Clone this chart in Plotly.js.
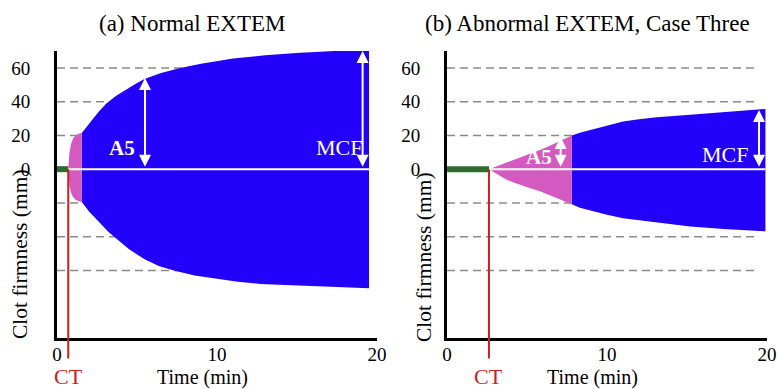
<!DOCTYPE html>
<html>
<head>
<meta charset="utf-8">
<script src="https://cdn.plot.ly/plotly-3.0.1.min.js"></script>
<style>html,body{margin:0;padding:0;background:#fff;}#chart{width:778px;height:389px;}</style>
</head>
<body>
<div id="chart"></div>
<script>
// ---------- data ----------
const panelTitles = ["(a) Normal EXTEM", "(b) Abnormal EXTEM, Case Three"];
const xTickVals = [0, 10, 20];
const yTickVals = [0, 20, 40, 60];
const gridVals = [60, 40, 20, -20, -40, -60];
const gridEnd = [19.3, 19.3];

// clotting time (min)
const ctTimes = [0.7, 2.62];

// Panel A: pink (clot formation) region
const pinkA_t  = [0.7, 0.72, 0.78, 0.88, 1.0, 1.15, 1.35, 1.55];
const pinkA_up = [0, 5, 10, 15, 18, 20, 21, 21.5];
const pinkA_lo = [0, -5, -10, -14, -16.5, -18, -19, -19.5];
// Panel A: blue (clot firmness) region
const blueA_tUp = [1.55, 1.9, 2.3, 2.7, 3.1, 3.7, 4.35, 5.0, 5.5, 6.5, 7.7, 9, 11, 13, 15.2, 17.5, 19.5];
const blueA_up  = [21.5, 26, 30.5, 35, 39, 43.5, 47.5, 51, 53.5, 57, 60, 62.5, 65.5, 67.5, 69, 70, 71];
const blueA_tLo = [1.55, 2.0, 2.7, 3.2, 3.7, 4.5, 5.5, 6.4, 7.3, 8.6, 10, 11.3, 12.7, 14.5, 16.4, 18, 19.5];
const blueA_lo  = [-19.5, -25, -32, -37, -41, -47.5, -53.5, -57.5, -60, -63, -65, -66.7, -68, -68.7, -69.2, -70, -70.5];

// Panel B: pink region
const pinkB_t  = [2.62, 3.2, 3.73, 4.25, 4.77, 5.3, 5.81, 6.35, 6.85, 7.3, 7.8];
const pinkB_up = [0, 2, 3.9, 5.8, 7.7, 9.6, 11.4, 13.6, 15.8, 17.9, 20];
const pinkB_lo = [0, -3.3, -6.2, -8.2, -10, -11.6, -13.1, -15, -17, -18.8, -20.8];
// Panel B: blue region
const blueB_t  = [7.8, 8.3, 8.9, 10, 11, 12, 13.1, 15.2, 17.3, 19.9];
const blueB_up = [20, 21.6, 23, 26, 28.3, 29.6, 30.7, 32.3, 33.9, 35.7];
const blueB_lo = [-20.8, -22.8, -24.4, -27, -29, -30.4, -31.5, -33.9, -35.5, -36.8];

const lineEnd = [19.5, 19.9];

// A5 and MCF arrows: [time, amplitude]
const a5Arrow  = [[5.5, 54], [7.1, 19]];
const mcfArrow = [[19.1, 70], [19.5, 35]];
const a5Label  = [[4.05, 12.8], [5.75, 7.5]];
const mcfLabel = [[17.6, 12.8], [17.4, 8.6]];

// ---------- styles ----------
const BLUE = "#2200fa", PINK = "#d45ac2", GREEN = "#2f6a2f", RED = "#d0201c", GRID = "#8a8a8a";
const FONT = "Liberation Serif, Times New Roman, serif";

function polygon(tUp, up, tLo, lo) {
  return {x: tUp.concat(tLo.slice().reverse()), y: up.concat(lo.slice().reverse())};
}

const traces = [];
const panels = [
  {pink: polygon(pinkA_t, pinkA_up, pinkA_t, pinkA_lo), blue: polygon(blueA_tUp, blueA_up, blueA_tLo, blueA_lo)},
  {pink: polygon(pinkB_t, pinkB_up, pinkB_t, pinkB_lo), blue: polygon(blueB_t, blueB_up, blueB_t, blueB_lo)}
];
panels.forEach((p, i) => {
  const xa = i === 0 ? "x" : "x2", ya = i === 0 ? "y" : "y2";
  const gx = [], gy = [];
  gridVals.forEach(v => { gx.push(0, gridEnd[i], null); gy.push(v, v, null); });
  traces.push({x: gx, y: gy, xaxis: xa, yaxis: ya, mode: "lines", hoverinfo: "skip",
    line: {color: GRID, width: 1.5, dash: "8px,5px"}});
  traces.push({x: p.blue.x, y: p.blue.y, xaxis: xa, yaxis: ya, mode: "lines", fill: "toself",
    fillcolor: BLUE, line: {width: 0, color: BLUE}, hoverinfo: "skip"});
  traces.push({x: p.pink.x, y: p.pink.y, xaxis: xa, yaxis: ya, mode: "lines", fill: "toself",
    fillcolor: PINK, line: {width: 0, color: PINK}, hoverinfo: "skip"});
  traces.push({x: [ctTimes[i], lineEnd[i]], y: [0, 0], xaxis: xa, yaxis: ya, mode: "lines",
    line: {color: "#ffffff", width: 2}, hoverinfo: "skip"});
  traces.push({x: [0, ctTimes[i]], y: [0, 0], xaxis: xa, yaxis: ya, mode: "lines",
    line: {color: GREEN, width: 6}, hoverinfo: "skip"});
});

const annotations = [];
panels.forEach((p, i) => {
  const xa = i === 0 ? "x" : "x2", ya = i === 0 ? "y" : "y2";
  // CT red line
  annotations.push({xref: xa, yref: ya, axref: xa, ayref: ya, x: ctTimes[i], y: 0,
    ax: ctTimes[i], ay: -113, text: "", showarrow: true, arrowhead: 0, arrowwidth: 2, arrowcolor: RED});
  // A5 and MCF arrows
  [a5Arrow[i], mcfArrow[i]].forEach(a => {
    annotations.push({xref: xa, yref: ya, axref: xa, ayref: ya, x: a[0], y: a[1], ax: a[0], ay: 0.5,
      text: "", showarrow: true, arrowhead: 2, startarrowhead: 2, arrowside: "end+start",
      arrowsize: 1.2, startarrowsize: 1.2, arrowwidth: 2, arrowcolor: "#ffffff"});
  });
  annotations.push({xref: xa, yref: ya, x: a5Label[i][0], y: a5Label[i][1], text: "<b>A5</b>",
    showarrow: false, xanchor: "center", font: {family: FONT, size: 21, color: "#ffffff"}});
  annotations.push({xref: xa, yref: ya, x: mcfLabel[i][0], y: mcfLabel[i][1], text: "MCF",
    showarrow: false, xanchor: "center", font: {family: FONT, size: 22, color: "#ffffff"}});
  // CT label
  annotations.push({xref: xa, yref: "paper", x: ctTimes[i], y: 13 / 389, text: "CT",
    showarrow: false, xanchor: "center", font: {family: FONT, size: 22, color: RED}, yanchor: "middle"});
});
// titles and axis titles
const titleX = [192, 587], xTitleX = [202, 592], yTitleX = [20, 424], yTitleY = [254, 257];
[0, 1].forEach(i => {
  annotations.push({xref: "paper", yref: "paper", x: titleX[i] / 778, y: 1 - 23 / 389, text: panelTitles[i],
    showarrow: false, xanchor: "center", font: {family: FONT, size: 23, color: "#000"}, yanchor: "middle"});
  annotations.push({xref: "paper", yref: "paper", x: xTitleX[i] / 778, y: 1 - 377 / 389, text: "Time (min)",
    showarrow: false, xanchor: "center", font: {family: FONT, size: 20, color: "#000"}, yanchor: "middle"});
  annotations.push({xref: "paper", yref: "paper", x: yTitleX[i] / 778, y: 1 - yTitleY[i] / 389, text: "Clot firmness (mm)",
    showarrow: false, textangle: -90, font: {family: FONT, size: 21.5, color: "#000"}, xanchor: "center", yanchor: "middle"});
});

function xAxis(dom, anchor) {
  return {domain: dom, anchor: anchor, range: [0, 20], tickvals: xTickVals, ticks: "", showgrid: false,
    zeroline: false, showline: true, linecolor: "#000", linewidth: 3, fixedrange: true,
    ticklabelstandoff: -3, tickfont: {family: FONT, size: 19, color: "#000"}};
}
function yAxis(anchor) {
  return {domain: [0.1311, 0.8689], anchor: anchor, range: [-100, 70], tickvals: yTickVals, ticks: "",
    showgrid: false, zeroline: false, showline: true, linecolor: "#000", linewidth: 3, fixedrange: true,
    ticklabelstandoff: 20, tickfont: {family: FONT, size: 19, color: "#000"}};
}

const layout = {
  width: 778, height: 389, margin: {l: 0, r: 0, t: 0, b: 0},
  paper_bgcolor: "#fff", plot_bgcolor: "rgba(0,0,0,0)", showlegend: false,
  xaxis: xAxis([0.0733, 0.4846], "y"), yaxis: yAxis("x"),
  xaxis2: xAxis([0.5746, 0.9859], "y2"), yaxis2: yAxis("x2"),
  annotations: annotations
};

Plotly.newPlot("chart", traces, layout, {displayModeBar: false, staticPlot: true});
</script>
</body>
</html>
